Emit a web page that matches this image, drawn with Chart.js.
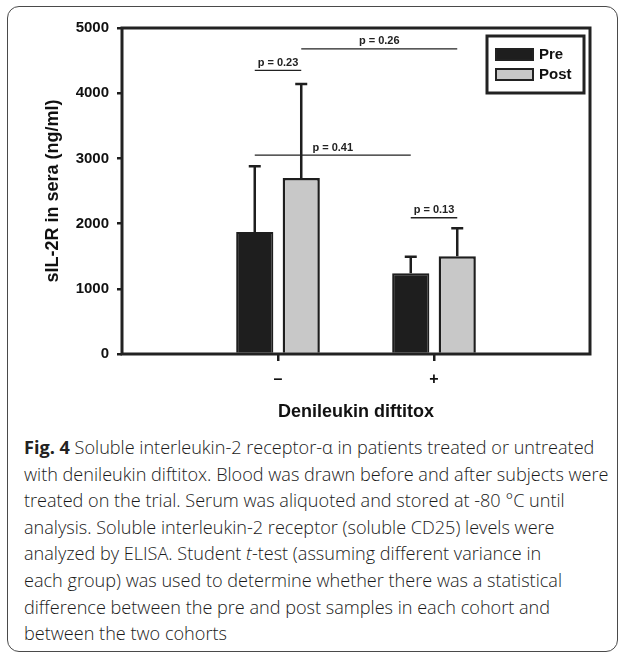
<!DOCTYPE html>
<html>
<head>
<meta charset="utf-8">
<script src="https://cdn.jsdelivr.net/npm/chart.js@4.4.1/dist/chart.umd.min.js"></script>
<style>
  body { margin: 0; background: #fff; }
  #frame { position: absolute; left: 7px; top: 6px; width: 609px; height: 644px;
           border: 1.5px solid #4a4a4a; border-radius: 12px; }
  #wrap { position: absolute; left: 0; top: 0; width: 625px; height: 430px; }
  #caption { position: absolute; left: 24px; top: 434px; width: 600px; white-space: nowrap;
             font-family: "Open Sans", sans-serif; font-weight: 300; font-size: 18.1px;
             line-height: 26.6px; color: #1a1a1a; }
  #caption b { font-weight: 700; color: #222; }
</style>
</head>
<body>
<div id="frame"></div>
<div id="wrap"><canvas id="chart"></canvas></div>
<div id="caption">
<b>Fig. 4</b> Soluble interleukin-2 receptor-α in patients treated or untreated<br>
with denileukin diftitox. Blood was drawn before and after subjects were<br>
treated on the trial. Serum was aliquoted and stored at -80 °C until<br>
analysis. Soluble interleukin-2 receptor (soluble CD25) levels were<br>
analyzed by ELISA. Student <i>t</i>-test (assuming different variance in<br>
each group) was used to determine whether there was a statistical<br>
difference between the pre and post samples in each cohort and<br>
between the two cohorts
</div>
<script>
// data
const categories = ['–', '+'];
const seriesNames = ['Pre', 'Post'];
const preMean = [1870, 1240];
const postMean = [2700, 1500];
const preErr = [1010, 250];   // upper error bar (SD)
const postErr = [1440, 430];
const yTicks = [0, 1000, 2000, 3000, 4000, 5000];

// significance brackets: [dataset, category] -> [dataset, category] at y level
const sigLabels = ['p = 0.23', 'p = 0.26', 'p = 0.41', 'p = 0.13'];
const sigLevels = [4350, 4680, 3050, 2090];
const sigFrom = [[0, 0], [1, 0], [0, 0], [0, 1]];
const sigTo = [[1, 0], [1, 1], [0, 1], [1, 1]];

const ink = '#1e1e1e';
const pad = arr => [null, ...arr, null];   // blank slots so groups sit at 1/3 and 2/3

const extras = {
  id: 'extras',
  afterDatasetsDraw(chart) {
    const ctx = chart.ctx;
    const y = chart.scales.y;
    const a = chart.chartArea;
    const errs = [preErr, postErr];
    ctx.save();
    ctx.strokeStyle = ink;

    // error bars (upper only)
    ctx.lineWidth = 2.5;
    chart.data.datasets.forEach((ds, di) => {
      const meta = chart.getDatasetMeta(di);
      categories.forEach((c, ci) => {
        const bar = meta.data[ci + 1];
        const top = y.getPixelForValue(ds.data[ci + 1] + errs[di][ci]);
        ctx.beginPath();
        ctx.moveTo(bar.x, bar.y);
        ctx.lineTo(bar.x, top);
        ctx.moveTo(bar.x - 6, top);
        ctx.lineTo(bar.x + 6, top);
        ctx.stroke();
      });
    });

    // plot frame
    ctx.lineWidth = 3;
    ctx.strokeStyle = '#222';
    ctx.strokeRect(a.left, a.top, a.right - a.left, a.bottom - a.top);

    // significance lines
    ctx.lineWidth = 1.3;
    ctx.fillStyle = '#222';
    ctx.font = 'bold 11px "Liberation Sans", Arial, sans-serif';
    ctx.textAlign = 'center';
    ctx.textBaseline = 'bottom';
    sigLabels.forEach((lab, i) => {
      const x1 = chart.getDatasetMeta(sigFrom[i][0]).data[sigFrom[i][1] + 1].x;
      const x2 = chart.getDatasetMeta(sigTo[i][0]).data[sigTo[i][1] + 1].x;
      const yy = y.getPixelForValue(sigLevels[i]);
      ctx.beginPath();
      ctx.moveTo(x1, yy);
      ctx.lineTo(x2, yy);
      ctx.stroke();
      ctx.fillText(lab, (x1 + x2) / 2, yy - 2);
    });

    // legend box inside the plot
    const bx = a.right - 103, by = a.top + 8, bw = 97, bh = 57;
    ctx.lineWidth = 3;
    ctx.strokeStyle = '#222';
    ctx.strokeRect(bx, by, bw, bh);
    ctx.font = 'bold 15px "Liberation Sans", Arial, sans-serif';
    ctx.textAlign = 'left';
    ctx.textBaseline = 'middle';
    chart.data.datasets.forEach((ds, di) => {
      const sy = by + 13 + di * 20;
      ctx.fillStyle = ds.backgroundColor;
      ctx.fillRect(bx + 9, sy, 37, 11);
      ctx.lineWidth = 2;
      ctx.strokeRect(bx + 9, sy, 37, 11);
      ctx.fillStyle = '#111';
      ctx.fillText(ds.label, bx + 52, sy + 6);
    });
    ctx.restore();
  }
};

new Chart(document.getElementById('chart'), {
  type: 'bar',
  data: {
    labels: pad(categories),
    datasets: [
      { label: seriesNames[0], data: pad(preMean), backgroundColor: '#1e1e1e',
        borderColor: ink, borderWidth: 2 },
      { label: seriesNames[1], data: pad(postMean), backgroundColor: '#c8c8c8',
        borderColor: ink, borderWidth: 2.5 }
    ]
  },
  options: {
    responsive: true,
    maintainAspectRatio: false,
    animation: false,
    devicePixelRatio: 1,
    categoryPercentage: 0.596,
    barPercentage: 0.8,
    layout: { padding: { top: 28, right: 35, left: 0, bottom: 0 } },
    plugins: { legend: { display: false }, tooltip: { enabled: false } },
    scales: {
      x: {
        offset: false,
        afterFit: s => { s.height = 76; },
        border: { display: false },
        grid: {
          offset: false, drawOnChartArea: false, tickLength: 7, lineWidth: 2.5,
          color: c => (c.tick && c.tick.label) ? ink : 'rgba(0,0,0,0)'
        },
        ticks: { color: '#111', padding: 9, maxRotation: 0, autoSkip: false,
                 font: { family: '"Liberation Sans", Arial, sans-serif', size: 16, weight: 'bold' } },
        title: { display: true, text: 'Denileukin diftitox', color: '#111',
                 padding: { top: 0, bottom: 7 },
                 font: { family: '"Liberation Sans", Arial, sans-serif', size: 18, weight: 'bold' } }
      },
      y: {
        min: 0, max: 5000,
        afterFit: s => { s.width = 122; },
        afterBuildTicks: s => { s.ticks = yTicks.map(v => ({ value: v })); },
        border: { display: false },
        grid: { drawOnChartArea: false, tickLength: 5, lineWidth: 2.5, color: ink },
        ticks: { color: '#111', padding: 8, callback: v => String(v),
                 font: { family: '"Liberation Sans", Arial, sans-serif', size: 15, weight: 'bold' } },
        title: { display: true, text: 'sIL-2R in sera (ng/ml)', color: '#111',
                 padding: { top: 42, bottom: 0 },
                 font: { family: '"Liberation Sans", Arial, sans-serif', size: 18, weight: 'bold' } }
      }
    }
  },
  plugins: [extras]
});
</script>
</body>
</html>
